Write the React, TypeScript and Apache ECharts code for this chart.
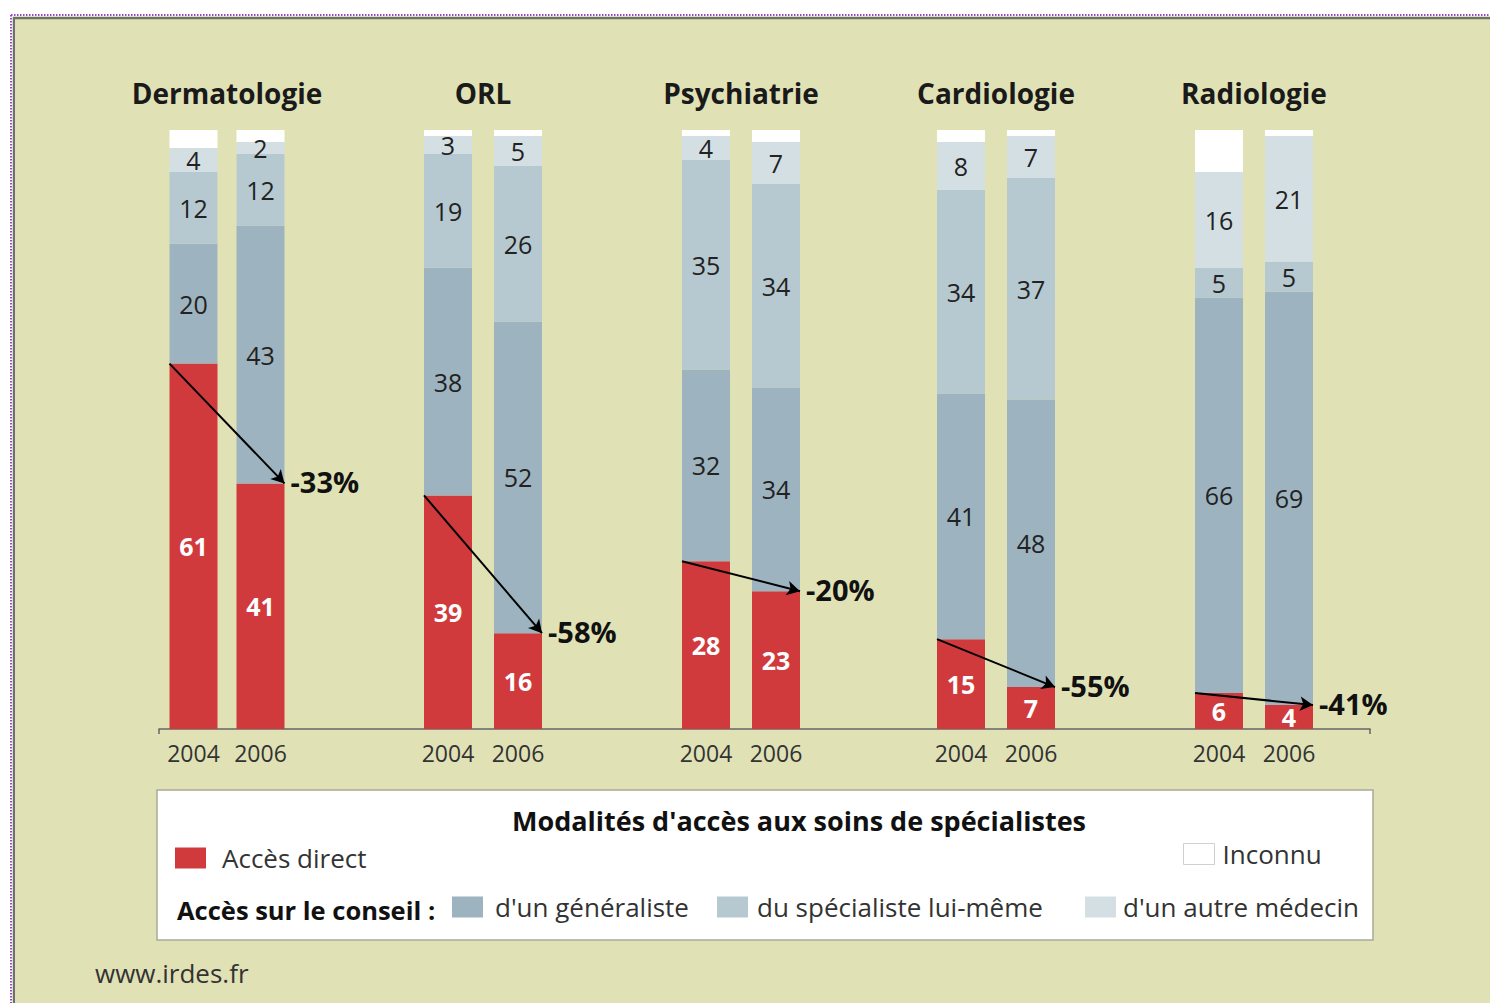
import React, { useEffect, useRef } from "react";
import * as echarts from "echarts";

const FONT = '"Open Sans", "Noto Sans", sans-serif';

const specialties = ["Dermatologie", "ORL", "Psychiatrie", "Cardiologie", "Radiologie"];
const years = ["2004", "2006"];
// each pair: [2004, 2006]
const accesDirect = [[61, 41], [39, 16], [28, 23], [15, 7], [6, 4]];
const generaliste = [[20, 43], [38, 52], [32, 34], [41, 48], [66, 69]];
const specialiste = [[12, 12], [19, 26], [35, 34], [34, 37], [5, 5]];
const autreMedecin = [[4, 2], [3, 5], [4, 7], [8, 7], [16, 21]];
const inconnu = [[3, 2], [1, 1], [1, 2], [2, 1], [7, 1]];
const evolution = ["-33%", "-58%", "-20%", "-55%", "-41%"];

const seriesNames = ["Accès direct", "d'un généraliste", "du spécialiste lui-même", "d'un autre médecin", "Inconnu"];
const seriesData = [accesDirect, generaliste, specialiste, autreMedecin, inconnu];
const seriesColors = ["#d13a3c", "#9db3bf", "#b6c9d0", "#d4dfe4", "#ffffff"];

const gridLefts = [160, 413, 671, 926, 1184];
const slotWidths = [67, 70, 70, 70, 70];
const GRID_TOP = 130;
const GRID_BOTTOM = 274;
const BAR_W = 48;

function buildOption(arrows: any[] | null) {
  const grids: any[] = gridLefts.map((l, i) => ({ left: l, top: GRID_TOP, width: 2 * slotWidths[i], bottom: GRID_BOTTOM }));
  grids.push({ left: 159, top: GRID_TOP, width: 1211, bottom: GRID_BOTTOM });

  const xAxis: any[] = [];
  specialties.forEach((_, i) => {
    xAxis.push({
      type: "category", gridIndex: i, data: years, position: "bottom",
      axisLine: { show: false }, axisTick: { show: false },
      axisLabel: { fontSize: 23, color: "#333", fontFamily: FONT, margin: 12, interval: 0 },
    });
  });
  specialties.forEach((name, i) => {
    xAxis.push({
      type: "category", gridIndex: i, data: years, position: "top",
      axisLine: { show: false }, axisTick: { show: false }, axisLabel: { show: false },
      name, nameLocation: "middle", nameGap: 23,
      nameTextStyle: { fontSize: 28, fontWeight: "bold", color: "#1a1a1a", fontFamily: FONT },
    });
  });
  xAxis.push({
    type: "value", gridIndex: 5, min: 0, max: 1, interval: 1,
    axisLine: { show: true, lineStyle: { color: "#666", width: 1.5 } },
    axisTick: { show: true, length: 5, lineStyle: { color: "#666", width: 1.5 } },
    axisLabel: { show: false }, splitLine: { show: false },
  });

  const yAxis: any[] = [];
  for (let i = 0; i < 6; i++) {
    yAxis.push({ type: "value", gridIndex: i, min: 0, max: 100, show: false, splitLine: { show: false } });
  }

  const series: any[] = [];
  specialties.forEach((_, i) => {
    seriesData.forEach((arr, k) => {
      const s: any = {
        type: "bar", name: seriesNames[k], stack: "g" + i,
        xAxisIndex: i, yAxisIndex: i, data: arr[i], barWidth: BAR_W,
        itemStyle: { color: seriesColors[k] },
        label: {
          show: k < 4, position: "inside", fontFamily: FONT, fontSize: 25,
          color: k === 0 ? "#fff" : "#222", fontWeight: k === 0 ? "bold" : "normal",
        },
        emphasis: { disabled: true },
      };
      if (k === 0 && arrows) {
        const a = arrows[i];
        s.markLine = {
          silent: true,
          symbol: ["none", "arrow"],
          symbolSize: [11, 13],
          lineStyle: { color: "#000", width: 2, type: "solid" },
          emphasis: { disabled: true },
          label: { show: false },
          data: [[{ x: a.x1, y: a.y1 }, { x: a.x2, y: a.y2 }]],
        };
      }
      series.push(s);
    });
  });

  const legendText = (pad: number) => ({ fontSize: 26, color: "#333", fontFamily: FONT, padding: [0, 0, 0, pad] });
  const legendItem = (name: string, left: number, top: number, pad: number, extra: any = {}) => ({
    data: [{ name, ...extra }], left, top, padding: 0, icon: "rect",
    itemWidth: 31, itemHeight: 21, selectedMode: false, textStyle: legendText(pad),
  });

  const graphic: any[] = [
    { type: "rect", z: -10, shape: { x: 16, y: 19, width: 1480, height: 990 }, style: { fill: "#e0e2b6" } },
    { type: "line", z: -9, shape: { x1: 11, y1: 15, x2: 1490, y2: 15 }, style: { stroke: "#9b48bd", lineWidth: 2, lineDash: [1.5, 1.5] } },
    { type: "line", z: -9, shape: { x1: 11, y1: 15, x2: 11, y2: 1003 }, style: { stroke: "#9b48bd", lineWidth: 2, lineDash: [1.5, 1.5] } },
    { type: "line", z: -8, shape: { x1: 13, y1: 18, x2: 1490, y2: 18 }, style: { stroke: "#6f725f", lineWidth: 2.5 } },
    { type: "line", z: -8, shape: { x1: 14, y1: 17, x2: 14, y2: 1003 }, style: { stroke: "#6f725f", lineWidth: 2.5 } },
    { type: "rect", z: -5, shape: { x: 157, y: 790, width: 1216, height: 150 }, style: { fill: "#ffffff", stroke: "#a9ab95", lineWidth: 1.5 } },
    {
      type: "text", z: 5, x: 799, y: 820,
      style: { text: "Modalités d'accès aux soins de spécialistes", fontSize: 27, fontWeight: "bold", fill: "#111", fontFamily: FONT, textAlign: "center", textVerticalAlign: "middle" },
    },
    {
      type: "text", z: 5, x: 177, y: 910,
      style: { text: "Accès sur le conseil :", fontSize: 25.5, fontWeight: "bold", fill: "#111", fontFamily: FONT, textAlign: "left", textVerticalAlign: "middle" },
    },
    {
      type: "text", z: 5, x: 95, y: 973,
      style: { text: "www.irdes.fr", fontSize: 26, fill: "#333", fontFamily: FONT, textAlign: "left", textVerticalAlign: "middle" },
    },
  ];
  if (arrows) {
    arrows.forEach((a, i) => {
      graphic.push({
        type: "text", z: 6, x: a.x2 + 6, y: a.y2 - 2,
        style: { text: evolution[i], fontSize: 29, fontWeight: "bold", fill: "#111", fontFamily: FONT, textAlign: "left", textVerticalAlign: "middle" },
      });
    });
  }

  return {
    animation: false,
    backgroundColor: "#ffffff",
    grid: grids,
    xAxis, yAxis, series,
    legend: [
      legendItem("Accès direct", 175, 845, 11),
      legendItem("Inconnu", 1183, 841, 3, { itemStyle: { borderColor: "#d0d0d0", borderWidth: 1 } }),
      legendItem("d'un généraliste", 452, 894, 7),
      legendItem("du spécialiste lui-même", 717, 894, 4),
      legendItem("d'un autre médecin", 1085, 894, 2),
    ],
    graphic,
  };
}

export default function App() {
  const ref = useRef<HTMLDivElement>(null);
  useEffect(() => {
    if (!ref.current) return;
    const chart = echarts.init(ref.current, null, { renderer: "svg" });
    chart.setOption(buildOption(null));
    const arrows = specialties.map((_, i) => {
      const p1 = chart.convertToPixel({ xAxisIndex: i, yAxisIndex: i } as any, [0, accesDirect[i][0]]) as number[];
      const p2 = chart.convertToPixel({ xAxisIndex: i, yAxisIndex: i } as any, [1, accesDirect[i][1]]) as number[];
      return { x1: p1[0] - BAR_W / 2, y1: p1[1], x2: p2[0] + BAR_W / 2, y2: p2[1] };
    });
    chart.setOption(buildOption(arrows), { notMerge: true });
    return () => chart.dispose();
  }, []);
  return <div ref={ref} style={{ position: "absolute", left: 0, top: 0, width: 1490, height: 1003 }} />;
}
